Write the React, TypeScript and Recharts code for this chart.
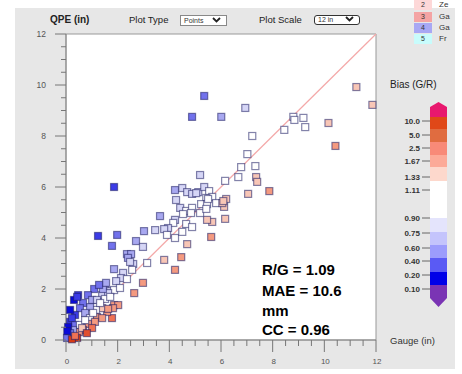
import React from 'react';
import { ScatterChart, Scatter, XAxis, YAxis, ReferenceArea, ReferenceLine } from 'recharts';

// Gauge (x) and QPE (y) values in inches
const gaugeIn = [
  5.35, 4.88, 6.01, 6.94, 1.86, 11.24, 11.86, 8.80, 8.84, 9.19, 9.26, 8.45, 10.16, 10.43, 7.21, 7.02,
  6.78, 7.33, 6.67, 7.36, 7.40, 7.87, 7.05, 6.16, 5.19, 6.20, 6.12, 6.16, 5.62, 4.69, 4.46, 5.66, 5.46,
  4.22, 4.50, 4.69, 4.88, 5.12, 5.35, 5.54, 5.66, 5.43, 5.23, 5.46, 5.81, 6.05, 4.26, 4.42, 4.65, 4.88,
  4.84, 4.53, 5.19, 5.43, 3.64, 4.22, 4.15, 3.95, 3.80, 3.91, 4.22, 4.65, 4.88, 4.50, 3.80, 4.22, 3.45,
  3.02, 1.98, 1.24, 2.71, 2.98, 1.78, 2.36, 2.52, 2.40, 2.60, 2.56, 3.14, 1.86, 2.21, 2.13, 5.50, 6.09,
  5.04, 2.36, 2.98, 2.64, 0.47, 0.31, 1.09, 1.51, 1.71, 1.86, 1.40, 1.63, 0.85, 1.01, 1.20, 1.51, 1.71,
  1.86, 2.02, 1.78, 1.59, 1.40, 1.16, 0.93, 0.66, 0.54, 0.74, 0.93, 1.20, 1.40, 1.12, 0.85, 0.35, 0.16,
  0.35, 0.54, 0.66, 0.50, 0.27, 0.08, 0.16, 0.04, 0.43, 0.23, 0.74, 1.05, 1.32, 1.43, 2.48, 1.82, 1.63,
  0.43, 0.16, 0.23, 0.05, 0.62, 1.01, 0.81, 0.35, 1.94, 1.55, 1.28, 2.09,
];
const qpeIn = [
  9.57, 8.75, 8.75, 9.10, 6.00, 9.92, 9.22, 8.75, 8.63, 8.71, 8.35, 8.24, 8.51, 7.61, 8.00, 7.29,
  6.78, 6.82, 6.39, 6.39, 6.20, 5.84, 5.73, 6.24, 6.47, 5.53, 5.22, 4.75, 4.04, 3.76, 3.25, 4.63, 4.71,
  5.88, 5.96, 5.80, 5.73, 5.80, 6.00, 5.84, 5.61, 5.57, 5.33, 5.33, 5.37, 5.37, 5.49, 5.18, 5.06, 5.18,
  4.98, 4.94, 4.98, 5.14, 4.86, 4.71, 4.59, 4.39, 4.35, 4.12, 4.00, 4.55, 4.43, 4.24, 3.14, 2.75, 4.31,
  4.27, 4.12, 4.08, 3.88, 3.65, 3.69, 3.37, 3.37, 3.22, 2.98, 2.75, 3.02, 2.78, 2.63, 2.43, 5.53, 5.45,
  5.76, 2.39, 2.24, 1.84, 1.76, 1.57, 2.00, 1.96, 1.92, 1.96, 1.76, 1.84, 1.76, 1.57, 1.57, 1.61, 1.69,
  1.37, 1.37, 0.86, 1.10, 1.25, 1.18, 1.29, 1.45, 1.25, 1.06, 0.86, 0.90, 0.86, 0.71, 0.63, 0.98, 0.71,
  0.59, 0.59, 0.39, 0.31, 0.39, 0.51, 0.27, 0.08, 0.08, 0.03, 0.78, 1.06, 1.45, 2.00, 3.06, 1.25, 1.22,
  1.69, 1.18, 0.86, 0.35, 0.47, 0.47, 0.27, 0.16, 2.31, 2.24, 2.16, 2.04,
];

const axisTicks = [0, 0.5, 1, 1.5, 2, 2.5, 3, 3.5, 4, 4.5, 5, 5.5, 6, 6.5, 7, 7.5, 8, 8.5, 9, 9.5, 10, 10.5, 11, 11.5, 12];
const majorTicks = [0, 2, 4, 6, 8, 10, 12];

// Bias (G/R) classes
const biasBreaks = [10, 5, 2.5, 1.67, 1.33, 1.11, 0.9, 0.75, 0.6, 0.4, 0.2, 0.1];
const biasLabels = ['10.0', '5.0', '2.5', '1.67', '1.33', '1.11', '0.90', '0.75', '0.60', '0.40', '0.20', '0.10'];
const barColors = ['#e8186e', '#e04818', '#e06c40', '#f88a78', '#fcaa98', '#fdd8cc', '#ffffff', '#e4e4fc', '#c4c4fc', '#9c9cfc', '#5a5af4', '#0000e8', '#7a34b4'];
const markerColors = ['#d0106a', '#d83a14', '#e05030', '#f07254', '#f49a80', '#f8c6b6', '#ffffff', '#d6d6f6', '#a8a8f0', '#7272ec', '#3c3ce6', '#0a0ad8', '#6a28b0'];

const statLines = ['R/G = 1.09', 'MAE = 10.6', 'mm', 'CC = 0.96'];
const legendCodes = ['2', '3', '4', '5'];
const legendNames = ['Ze', 'Ga', 'Ga', 'Fr'];
const legendColors = ['#fdd8d8', '#f4a4a4', '#a8a8f4', '#c8fcfc'];

const points = gaugeIn.map((g, i) => ({ gauge: g, qpe: qpeIn[i] }));

const classOf = (bias: number) => {
  for (let i = 0; i < 6; i++) if (bias > biasBreaks[i]) return i;
  for (let i = 6; i < biasBreaks.length; i++) if (bias >= biasBreaks[i]) return i;
  return biasBreaks.length;
};

const Square = (props: any) => {
  const { cx, cy, payload } = props;
  if (cx == null || cy == null) return null;
  const bias = payload.gauge / Math.max(payload.qpe, 0.001);
  const c = markerColors[classOf(bias)];
  return (
    <rect x={cx - 3.5} y={cy - 3.5} width={7} height={7} fill={c} stroke="#1e1e64" strokeOpacity={0.55} strokeWidth={1.2} />
  );
};

const XTick = (props: any) => {
  const { x, y, payload } = props;
  const v = payload.value;
  const major = majorTicks.includes(v);
  return (
    <g>
      <line x1={x} x2={x} y1={y} y2={y + (major ? 12 : 6)} stroke="#777" strokeWidth={1} />
      {major && (
        <text x={x + 1} y={y + 24} textAnchor="middle" fontSize={8} fill="#555">{v}</text>
      )}
    </g>
  );
};

const YTick = (props: any) => {
  const { x, y, payload } = props;
  const v = payload.value;
  const major = majorTicks.includes(v);
  return (
    <g>
      <line x1={x - (major ? 11 : 5)} x2={x} y1={y} y2={y} stroke="#777" strokeWidth={1} />
      {major && (
        <text x={x - 20} y={y + 3} textAnchor="end" fontSize={8.5} fill="#555">{v}</text>
      )}
    </g>
  );
};

const font = 'Arial, "Liberation Sans", Helvetica, sans-serif';

// colour bar geometry
const barX = 430;
const barW = 17;
const segEdges = [117, 129, 142, 155, 167, 181, 218, 232, 245, 258, 272, 285];
const labelYs = [121, 135, 148, 161, 177, 190, 218, 233, 248, 261, 275, 289];

const Chevron = ({ x, y }: { x: number; y: number }) => (
  <svg style={{ position: 'absolute', left: x, top: y }} width={9} height={6}>
    <polyline points="1,1 4.5,4.5 8,1" fill="none" stroke="#222" strokeWidth={1.8} />
  </svg>
);

export default function App() {
  return (
    <div style={{ position: 'absolute', left: 0, top: 0, width: 462, height: 374, overflow: 'hidden', background: '#fff', fontFamily: font }}>
      <div style={{ position: 'absolute', left: 15, top: 8, width: 440, height: 361, background: '#e7e7e7' }} />

      {/* header */}
      <div style={{ position: 'absolute', left: 50, top: 13, fontSize: 10, fontWeight: 'bold', color: '#222', lineHeight: '14px' }}>QPE (in)</div>
      <div style={{ position: 'absolute', left: 129, top: 13, fontSize: 9.5, color: '#222', lineHeight: '14px' }}>Plot Type</div>
      <div style={{ position: 'absolute', left: 180, top: 15, width: 45, height: 9, border: '1px solid #888', background: '#fff' }}>
        <span style={{ position: 'absolute', left: 3, top: -1, fontSize: 7, color: '#333', lineHeight: '11px' }}>Points</span>
      </div>
      <Chevron x={212} y={17} />
      <div style={{ position: 'absolute', left: 259, top: 13, fontSize: 9.5, color: '#222', lineHeight: '14px' }}>Plot Scale</div>
      <div style={{ position: 'absolute', left: 314, top: 15, width: 44, height: 8, border: '1.5px solid #333', borderRadius: 3, background: '#fff' }}>
        <span style={{ position: 'absolute', left: 3, top: -1, fontSize: 7, color: '#333', lineHeight: '10px' }}>12 in</span>
      </div>
      <Chevron x={345} y={16} />

      {/* small category legend, top right */}
      <div style={{ position: 'absolute', left: 405, top: 0, width: 50, height: 46 }}>
        {legendCodes.map((c, i) => (
          <React.Fragment key={c}>
            <div style={{ position: 'absolute', left: 9, top: [0, 12, 23, 34][i], width: 18, height: 10, background: legendColors[i], fontSize: 7, color: '#333', textAlign: 'center', lineHeight: '10px' }}>{c}</div>
            <div style={{ position: 'absolute', left: 34, top: [0, 12, 23, 34][i], fontSize: 8, color: '#333', lineHeight: '10px', whiteSpace: 'nowrap' }}>{legendNames[i]}</div>
          </React.Fragment>
        ))}
      </div>

      {/* chart */}
      <div style={{ position: 'absolute', left: 0, top: 0 }}>
        <ScatterChart width={462} height={374} margin={{ top: 34, right: 86, bottom: 4, left: 36 }}>
          <XAxis
            type="number"
            dataKey="gauge"
            domain={[0, 12]}
            ticks={axisTicks}
            interval={0}
            tickSize={0}
            tickMargin={0}
            tick={<XTick />}
            height={30}
            axisLine={{ stroke: '#888' }}
            tickLine={false}
          />
          <YAxis
            type="number"
            dataKey="qpe"
            domain={[0, 12]}
            ticks={axisTicks}
            interval={0}
            tickSize={0}
            tickMargin={0}
            tick={<YTick />}
            width={30}
            axisLine={{ stroke: '#888' }}
            tickLine={false}
          />
          <ReferenceArea x1={0} x2={12} y1={0} y2={12} fill="#ffffff" fillOpacity={1} stroke="#999" strokeWidth={1} />
          <ReferenceLine segment={[{ x: 0, y: 0 }, { x: 12, y: 12 }]} stroke="#f4a8a8" strokeWidth={1.2} />
          <Scatter data={points} shape={<Square />} isAnimationActive={false} />
        </ScatterChart>
      </div>

      {/* statistics */}
      {statLines.map((s, i) => (
        <div key={i} style={{ position: 'absolute', left: 262, top: [260, 281, 301, 320][i], fontSize: 15, fontWeight: 'bold', color: '#000', lineHeight: '20px', whiteSpace: 'nowrap' }}>{s}</div>
      ))}

      {/* axis titles */}
      <div style={{ position: 'absolute', left: 390, top: 334, fontSize: 9.5, color: '#333', lineHeight: '14px' }}>Gauge (in)</div>
      <div style={{ position: 'absolute', left: 390, top: 78, fontSize: 10, color: '#222', lineHeight: '14px' }}>Bias (G/R)</div>

      {/* colour bar */}
      <svg style={{ position: 'absolute', left: 0, top: 0 }} width={462} height={374}>
        <polygon points={`${barX},107 ${barX + barW / 2},102 ${barX + barW},107 ${barX + barW},${segEdges[0]} ${barX},${segEdges[0]}`} fill={barColors[0]} />
        {segEdges.slice(0, -1).map((e, i) => (
          <rect key={i} x={barX} y={e} width={barW} height={segEdges[i + 1] - e + 0.5} fill={barColors[i + 1]} />
        ))}
        <polygon points={`${barX},${segEdges[11]} ${barX + barW},${segEdges[11]} ${barX + barW},298 ${barX + barW / 2},307 ${barX},298`} fill={barColors[12]} />
        {biasLabels.map((l, i) => (
          <g key={l}>
            <line x1={422} x2={430} y1={labelYs[i]} y2={labelYs[i]} stroke="#666" />
            <text x={420} y={labelYs[i] + 3} textAnchor="end" fontSize={8} fontWeight="bold" fill="#333" fontFamily={font}>{l}</text>
          </g>
        ))}
      </svg>
    </div>
  );
}
